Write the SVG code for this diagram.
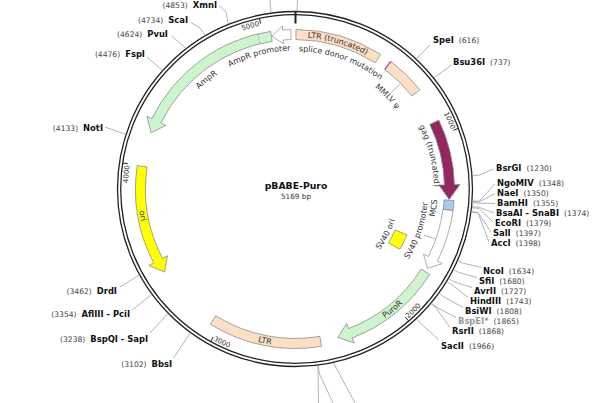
<svg xmlns="http://www.w3.org/2000/svg" width="600" height="403" viewBox="0 0 600 403">
<style>
.ring{fill:none;stroke:#222;stroke-width:1.3}
.tick{stroke:#222;stroke-width:1}
.f{stroke:#8c8c8c;stroke-width:0.8}
.ltr{fill:#fde0c4}
.grn{fill:#cdf5cd}
.yel{fill:#ffff00}
.wht{fill:#fff;stroke:#999}
.lead{fill:none;stroke:#a0a0a0;stroke-width:0.8}
.fl{font-family:"DejaVu Sans",Verdana,sans-serif;font-size:8px;fill:#333}
.tl{font-family:"DejaVu Sans",Verdana,sans-serif;font-size:7px;fill:#333}
.en{font-family:"DejaVu Sans",Verdana,sans-serif;font-size:8.4px;font-weight:bold;fill:#111}
.ep{font-size:7.6px;font-weight:normal;fill:#444}
.gr{fill:#999}
</style>
<defs>
<path id="pLTRt" d="M 272.30,38.91 A 151.8 151.8 0 0 1 395.39,75.13"/>
<path id="pSDM" d="M 271.12,53.59 A 137.5 137.5 0 0 1 400.33,99.33"/>
<path id="pAmpP" d="M 197.07,91.07 A 138.5 138.5 0 0 1 330.85,55.22"/>
<path id="pAmp" d="M 165.70,139.37 A 138.5 138.5 0 0 1 273.33,52.20"/>
<path id="pMMLV" d="M 328.39,64.40 A 129 129 0 0 1 419.60,155.61"/>
<path id="pGag" d="M 395.32,92.79 A 139 139 0 0 1 428.48,227.78"/>
<path id="pMCS" d="M 407.68,276.40 A 142.6 142.6 0 0 0 427.03,135.12"/>
<path id="pSVP" d="M 383.57,289.38 A 133 133 0 0 0 425.56,163.62"/>
<path id="pSVO" d="M 352.68,276.14 A 104.5 104.5 0 0 0 399.30,182.62"/>
<path id="pPuro" d="M 319.61,344.36 A 157.3 157.3 0 0 0 441.85,245.37"/>
<path id="pLTR" d="M 191.39,307.35 A 157.3 157.3 0 0 0 345.69,337.91"/>
<path id="pOri" d="M 147.19,135.20 A 157.3 157.3 0 0 0 174.50,290.11"/>
<path id="t1000" d="M 421.32,79.77 A 167 167 0 0 1 451.07,129.56"/>
<path id="t2000" d="M 408.34,318.37 A 172 172 0 0 0 445.73,271.85"/>
<path id="t3000" d="M 213.08,340.24 A 172 172 0 0 0 269.75,359.14"/>
<path id="t4000" d="M 131.59,223.46 A 167 167 0 0 1 129.66,165.50"/>
<path id="t5000" d="M 205.84,47.79 A 167 167 0 0 1 259.51,25.81"/>
</defs>
<rect width="600" height="403" fill="#fff"/>

<g id="backbone">
<circle class="ring" cx="295" cy="189" r="177.5"/>
<circle class="ring" cx="295" cy="189" r="174.3"/>
<line x1="295.5" y1="11" x2="295.5" y2="23.5" stroke="#222" stroke-width="2"/>
<line class="tick" x1="458.14" y1="128.49" x2="453.45" y2="130.22"/>
<line class="tick" x1="408.52" y1="320.87" x2="405.25" y2="317.08"/>
<line class="tick" x1="210.80" y1="341.27" x2="213.22" y2="336.90"/>
<line class="tick" x1="122.95" y1="163.00" x2="127.89" y2="163.75"/>
<line class="tick" x1="259.51" y1="18.66" x2="260.53" y2="23.55"/>
<text class="tl"><textPath href="#t1000" startOffset="100%" text-anchor="end">1000</textPath></text>
<text class="tl"><textPath href="#t2000" startOffset="0" text-anchor="start">2000</textPath></text>
<text class="tl"><textPath href="#t3000" startOffset="0" text-anchor="start">3000</textPath></text>
<text class="tl"><textPath href="#t4000" startOffset="100%" text-anchor="end">4000</textPath></text>
<text class="tl"><textPath href="#t5000" startOffset="100%" text-anchor="end">5000</textPath></text>
</g>

<g id="title">
<text x="296" y="189" text-anchor="middle" font-family="DejaVu Sans, sans-serif" font-weight="bold" font-size="9.3" fill="#111">pBABE-Puro</text>
<text x="296" y="198.5" text-anchor="middle" font-family="DejaVu Sans, sans-serif" font-size="7.3" fill="#333">5169 bp</text>
</g>

<g id="LTR_truncated">
<path class="f ltr" d="M 295.97,29.5 A 159.5 159.5 0 0 1 380.59,54.41 L 375.22,62.85 A 149.5 149.5 0 0 0 295.91,39.5 Z"/>
<text class="fl"><textPath href="#pLTRt" startOffset="50%" text-anchor="middle">LTR (truncated)</textPath></text>
</g>
<g id="splice_donor_mutation">
<line x1="390.80" y1="61.47" x2="384.79" y2="69.47" stroke="#e03ce0" stroke-width="1.2"/>
<text class="fl"><textPath href="#pSDM" startOffset="50%" text-anchor="middle">splice donor mutation</textPath></text>
</g>
<g id="MMLV_psi">
<path class="f ltr" d="M 390.80,61.47 A 159.5 159.5 0 0 1 419.91,89.81 L 412.08,96.03 A 149.5 149.5 0 0 0 384.79,69.47 Z"/>
<line x1="390.80" y1="61.47" x2="384.79" y2="69.47" stroke="#e03ce0" stroke-width="1.2"/>
<line class="lead" x1="391.2" y1="92.8" x2="400.0" y2="84.0"/>
<text class="fl"><textPath href="#pMMLV" startOffset="50%" text-anchor="middle">MMLV ψ</textPath></text>
</g>
<g id="AmpR_promoter">
<path class="wht" stroke-width="0.8" d="M 290.88,29.55 A 159.5 159.5 0 0 0 282.62,29.98 L 282.31,25.99 L 272.0,36.22 L 283.71,43.94 L 283.40,39.95 A 149.5 149.5 0 0 1 291.14,39.55 Z"/>
<text class="fl"><textPath href="#pAmpP" startOffset="50%" text-anchor="middle">AmpR promoter</textPath></text>
</g>
<g id="AmpR">
<path class="f grn" d="M 270.68,31.36 A 159.5 159.5 0 0 0 151.89,118.56 L 146.96,116.13 L 151.08,132.81 L 165.80,125.41 L 160.87,122.98 A 149.5 149.5 0 0 1 272.21,41.25 Z"/>
<line x1="257.76" y1="33.91" x2="260.10" y2="43.63" stroke="#888" stroke-width="0.7" stroke-dasharray="1.5 1.2"/>
<text class="fl"><textPath href="#pAmp" startOffset="50%" text-anchor="middle">AmpR</textPath></text>
</g>
<g id="gag_truncated">
<path class="f" fill="#93275f" d="M 438.86,120.13 A 159.5 159.5 0 0 1 454.44,184.69 L 459.94,184.54 L 449.15,199.45 L 438.95,185.10 L 444.44,184.96 A 149.5 149.5 0 0 0 429.84,124.44 Z"/>
<text class="fl"><textPath href="#pGag" startOffset="50%" text-anchor="middle">gag (truncated)</textPath></text>
</g>
<g id="MCS">
<path class="f" fill="#a3cbf3" d="M 454.08,200.57 A 159.5 159.5 0 0 1 453.03,210.59 L 443.12,209.23 A 149.5 149.5 0 0 0 444.11,199.84 Z"/>
<text class="fl"><textPath href="#pMCS" startOffset="50%" text-anchor="middle">MCS</textPath></text>
</g>
<g id="SV40_promoter">
<path class="wht" stroke-width="0.8" d="M 453.00,210.78 A 159.5 159.5 0 0 1 437.29,261.08 L 442.19,263.57 L 427.56,268.37 L 423.46,254.08 L 428.36,256.56 A 149.5 149.5 0 0 0 443.10,209.42 Z"/>
<line class="lead" x1="424.06" y1="234.96" x2="434.90" y2="238.81"/>
<text class="fl"><textPath href="#pSVP" startOffset="50%" text-anchor="middle">SV40 promoter</textPath></text>
</g>
<g id="SV40_ori">
<path class="f yel" d="M 406.98,234.86 A 121 121 0 0 1 399.87,249.36 L 388.61,242.88 A 108 108 0 0 0 394.95,229.93 Z"/>
<text class="fl"><textPath href="#pSVO" startOffset="50%" text-anchor="middle">SV40 ori</textPath></text>
</g>
<g id="PuroR">
<path class="f grn" d="M 429.70,274.39 A 159.5 159.5 0 0 1 352.16,337.91 L 354.13,343.04 L 337.90,337.43 L 346.61,323.44 L 348.58,328.57 A 149.5 149.5 0 0 0 421.25,269.04 Z"/>
<text class="fl"><textPath href="#pPuro" startOffset="50%" text-anchor="middle">PuroR</textPath></text>
</g>
<g id="LTR">
<path class="f ltr" d="M 321.55,346.27 A 159.5 159.5 0 0 1 210.32,324.16 L 215.63,315.69 A 149.5 149.5 0 0 0 319.88,336.41 Z"/>
<text class="fl"><textPath href="#pLTR" startOffset="50%" text-anchor="middle">LTR</textPath></text>
</g>
<g id="ori">
<path class="f yel" d="M 137.23,165.56 A 159.5 159.5 0 0 0 153.68,262.96 L 148.81,265.51 L 164.70,272.03 L 167.42,255.77 L 162.54,258.32 A 149.5 149.5 0 0 1 147.12,167.03 Z"/>
<text class="fl"><textPath href="#pOri" startOffset="50%" text-anchor="middle">ori</textPath></text>
</g>

<g id="connectors">
<polyline class="lead" points="219,5.5 226,12 228.3,24"/>
<polyline class="lead" points="191,22.5 200,28 205.2,35.3"/>
<polyline class="lead" points="171.5,36 183,45.5 185.5,48.7"/>
<polyline class="lead" points="147,57 162.3,70.4"/>
<polyline class="lead" points="105,127 125.6,134.4"/>
<polyline class="lead" points="120,287 139.2,275"/>
<polyline class="lead" points="132,310 151.7,294.6"/>
<polyline class="lead" points="150,333 168,313.7"/>
<polyline class="lead" points="173.5,358 190.3,332.9"/>
<polyline class="lead" points="430,45 416.2,58.6"/>
<polyline class="lead" points="451.5,65 434,77.8"/>
<polyline class="lead" points="472.5,175.5 480,175 493,169"/>
<polyline class="lead" points="472.6,201.0 479,201.3 495,184"/>
<polyline class="lead" points="472.6,201.5 479,202 495,193.5"/>
<polyline class="lead" points="472.5,202.6 479,203.2 495,203.5"/>
<polyline class="lead" points="472.1,206.6 479,207.3 494,213"/>
<polyline class="lead" points="472.0,207.7 479,208.5 493,222"/>
<polyline class="lead" points="471.6,211.6 478,212.5 491,232"/>
<polyline class="lead" points="471.5,211.8 478,212.9 489,242"/>
<polyline class="lead" points="457.9,260.8 463.4,263.2 481,267.5"/>
<polyline class="lead" points="453.6,269.8 458.9,272.5 477,277.5"/>
<polyline class="lead" points="448.7,278.7 453.9,281.8 472,287.5"/>
<polyline class="lead" points="446.9,281.7 452.1,284.8 468,297.5"/>
<polyline class="lead" points="439.2,293.4 444,296.9 463,307.5"/>
<polyline class="lead" points="431.6,303.2 436.2,307 456,317.5"/>
<polyline class="lead" points="431.1,303.7 435.7,307.5 450,327.5"/>
<polyline class="lead" points="416.6,319 420.7,323.4 439,340"/>
<polyline class="lead" points="270,0 271,12.5"/>
<polyline class="lead" points="297.5,0 297,11"/>
<polyline class="lead" points="318,365.5 318.5,403"/>
<polyline class="lead" points="318,366 319.5,374 333,403"/>
<polyline class="lead" points="333.5,363 355,403"/>
</g>

<g id="sites">
<text class="en" x="217" y="8.3" text-anchor="end"><tspan class="ep">(4853)</tspan><tspan dx="5">XmnI</tspan></text>
<text class="en" x="188" y="23.3" text-anchor="end"><tspan class="ep">(4734)</tspan><tspan dx="5">ScaI</tspan></text>
<text class="en" x="168" y="37" text-anchor="end"><tspan class="ep">(4624)</tspan><tspan dx="5">PvuI</tspan></text>
<text class="en" x="145" y="57" text-anchor="end"><tspan class="ep">(4476)</tspan><tspan dx="5">FspI</tspan></text>
<text class="en" x="103" y="130.5" text-anchor="end"><tspan class="ep">(4133)</tspan><tspan dx="5">NotI</tspan></text>
<text class="en" x="117" y="294" text-anchor="end"><tspan class="ep">(3462)</tspan><tspan dx="5">DrdI</tspan></text>
<text class="en" x="130" y="317" text-anchor="end"><tspan class="ep">(3354)</tspan><tspan dx="5">AflIII - PciI</tspan></text>
<text class="en" x="148" y="341.5" text-anchor="end"><tspan class="ep">(3238)</tspan><tspan dx="5">BspQI - SapI</tspan></text>
<text class="en" x="172" y="367" text-anchor="end"><tspan class="ep">(3102)</tspan><tspan dx="5">BbsI</tspan></text>
<text class="en" x="433" y="42.5">SpeI<tspan class="ep" dx="5">(616)</tspan></text>
<text class="en" x="453" y="65">Bsu36I<tspan class="ep" dx="5">(737)</tspan></text>
<text class="en" x="496" y="171.3">BsrGI<tspan class="ep" dx="5">(1230)</tspan></text>
<text class="en" x="497" y="186.3">NgoMIV<tspan class="ep" dx="5">(1348)</tspan></text>
<text class="en" x="497" y="196.3">NaeI<tspan class="ep" dx="5">(1350)</tspan></text>
<text class="en" x="497" y="206.3">BamHI<tspan class="ep" dx="5">(1355)</tspan></text>
<text class="en" x="496" y="216.3">BsaAI - SnaBI<tspan class="ep" dx="5">(1374)</tspan></text>
<text class="en" x="495" y="226.3">EcoRI<tspan class="ep" dx="5">(1379)</tspan></text>
<text class="en" x="493" y="236.3">SalI<tspan class="ep" dx="5">(1397)</tspan></text>
<text class="en" x="491" y="246.3">AccI<tspan class="ep" dx="5">(1398)</tspan></text>
<text class="en" x="483" y="274.3">NcoI<tspan class="ep" dx="5">(1634)</tspan></text>
<text class="en" x="479" y="284.3">SfiI<tspan class="ep" dx="5">(1680)</tspan></text>
<text class="en" x="474" y="294.3">AvrII<tspan class="ep" dx="5">(1727)</tspan></text>
<text class="en" x="470" y="304.3">HindIII<tspan class="ep" dx="5">(1743)</tspan></text>
<text class="en" x="465" y="314.3">BsiWI<tspan class="ep" dx="5">(1808)</tspan></text>
<text class="en gr" x="458" y="324.3">BspEI*<tspan class="ep" dx="5">(1865)</tspan></text>
<text class="en" x="452" y="334.3">RsrII<tspan class="ep" dx="5">(1868)</tspan></text>
<text class="en" x="441" y="348.5">SacII<tspan class="ep" dx="5">(1966)</tspan></text>
</g>
</svg>
